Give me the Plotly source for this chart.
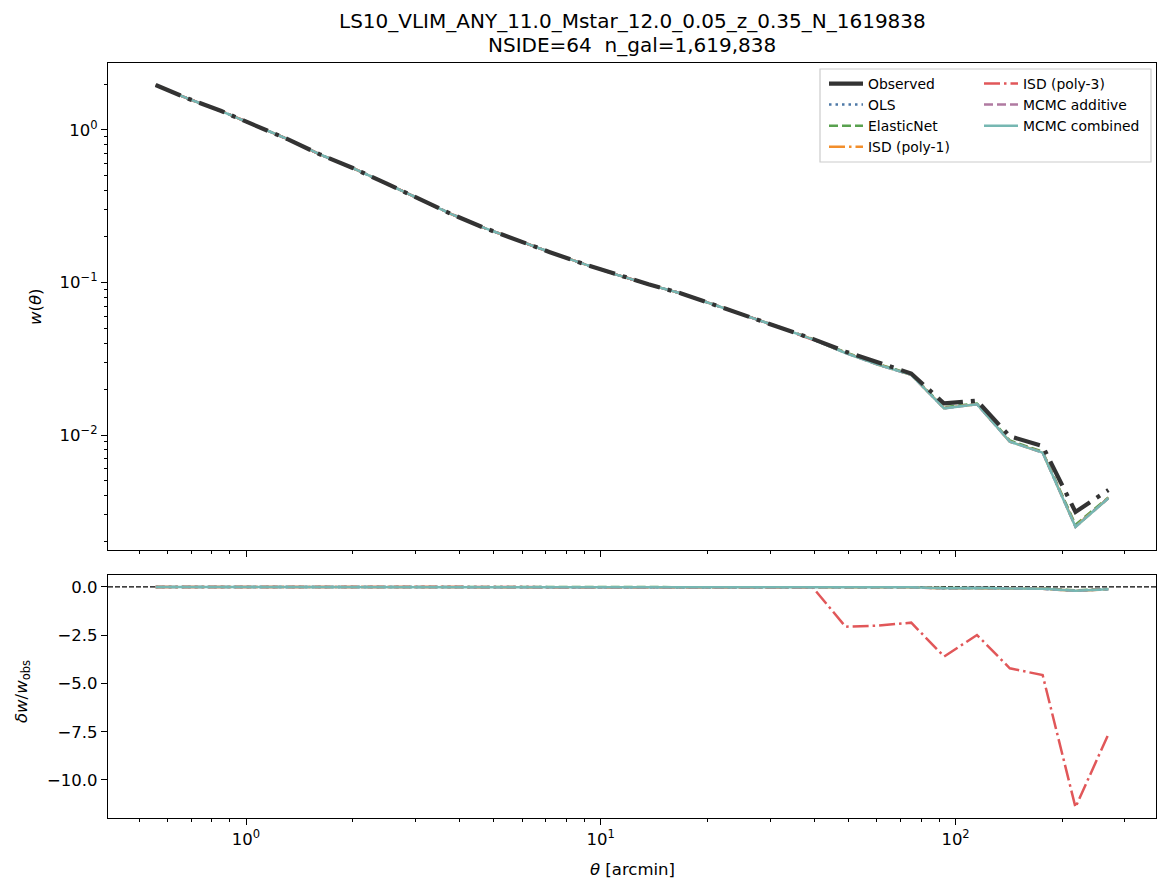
import numpy as np
import plotly.graph_objects as go

# ---------------- data ----------------
theta = [0.5563, 0.6884, 0.8519, 1.0546, 1.3053, 1.6156, 1.9995, 2.4749, 3.0627, 3.7907,
         4.6925, 5.8076, 7.1878, 8.896, 11.007, 13.623, 16.862, 20.869, 25.83, 31.97,
         39.56, 48.97, 60.6, 75.0, 92.84, 114.9, 142.2, 176.0, 217.8, 269.6]

w_obs = [1.97, 1.60, 1.33, 1.083, 0.873, 0.691, 0.563, 0.448, 0.353, 0.281,
         0.228, 0.189, 0.158, 0.133, 0.113, 0.0973, 0.0848, 0.0716, 0.0605, 0.0509,
         0.0427, 0.0352, 0.0296, 0.0253, 0.0161, 0.0168, 0.0098, 0.00847, 0.00313, 0.00436]

w_ols = [1.97, 1.60, 1.33, 1.083, 0.873, 0.691, 0.563, 0.448, 0.353, 0.281,
         0.228, 0.189, 0.158, 0.133, 0.113, 0.0972, 0.0847, 0.0715, 0.0604, 0.0507,
         0.0425, 0.0347, 0.0290, 0.0249, 0.0150, 0.0160, 0.00910, 0.00770, 0.00253, 0.00387]

w_enet = [1.97, 1.60, 1.33, 1.083, 0.873, 0.691, 0.563, 0.448, 0.353, 0.281,
          0.228, 0.189, 0.158, 0.133, 0.113, 0.0972, 0.0847, 0.0715, 0.0604, 0.0508,
          0.0426, 0.0349, 0.0292, 0.0250, 0.0152, 0.0161, 0.00920, 0.00778, 0.00258, 0.00390]

w_isd1 = [1.97, 1.60, 1.33, 1.083, 0.873, 0.691, 0.563, 0.448, 0.353, 0.281,
          0.228, 0.189, 0.158, 0.133, 0.113, 0.0972, 0.0847, 0.0715, 0.0604, 0.0507,
          0.0424, 0.0346, 0.0289, 0.0248, 0.0150, 0.0159, 0.00905, 0.00768, 0.00251, 0.00386]

w_isd3 = [1.97, 1.60, 1.33, 1.083, 0.873, 0.691, 0.563, 0.448, 0.353, 0.281,
          0.228, 0.189, 0.158, 0.133, 0.113, 0.0972, 0.0847, 0.0715, 0.0604, 0.0507,
          0.0421, -0.0373, -0.0296, -0.0215, -0.0419, -0.0250, -0.0315, -0.0302, -0.0326, -0.0289]

w_mcmc_add = [1.97, 1.60, 1.33, 1.083, 0.873, 0.691, 0.563, 0.448, 0.353, 0.281,
              0.228, 0.189, 0.158, 0.133, 0.113, 0.0972, 0.0847, 0.0715, 0.0604, 0.0507,
              0.0424, 0.0345, 0.0288, 0.0248, 0.01497, 0.0159, 0.00905, 0.00767, 0.00250, 0.00385]

w_mcmc_comb = [1.97, 1.60, 1.33, 1.083, 0.873, 0.691, 0.563, 0.448, 0.353, 0.281,
               0.228, 0.189, 0.158, 0.133, 0.113, 0.0972, 0.0847, 0.0715, 0.0604, 0.0507,
               0.0424, 0.0345, 0.0288, 0.0248, 0.01495, 0.0159, 0.00904, 0.00766, 0.00250, 0.00385]

series = [
    ("OLS", w_ols, "#4e79a7", "2.5px,4px", "legend"),
    ("ElasticNet", w_enet, "#59a14f", "9px,4px", "legend"),
    ("ISD (poly-1)", w_isd1, "#f28e2b", "16px,4px,2.5px,4px", "legend"),
    ("ISD (poly-3)", w_isd3, "#e15759", "16px,4px,2.5px,4px", "legend2"),
    ("MCMC additive", w_mcmc_add, "#b07aa1", "9px,4px", "legend2"),
    ("MCMC combined", w_mcmc_comb, "#76b7b2", "solid", "legend2"),
]

title_1 = "LS10_VLIM_ANY_11.0_Mstar_12.0_0.05_z_0.35_N_1619838"
title_2 = "NSIDE=64\u00a0 n_gal=1,619,838"

# ---------------- figure ----------------
W, H = 1168, 891
L, R, T, B = 108, 12, 63, 73
PW, PH = W - L - R, H - T - B


def px_x(px):
    return (px - L) / PW


def px_y(py):
    return (H - B - py) / PH


FONT = "DejaVu Sans"
fig = go.Figure()

obs = np.array(w_obs)
th = np.array(theta)

fig.add_trace(go.Scatter(x=[None], y=[None], mode="lines", name="Observed",
                         line=dict(color="#333333", width=4.2), xaxis="x", yaxis="y",
                         legend="legend", legendrank=1, showlegend=True))

rank = 2
for name, vals, col, dash, leg in series:
    v = np.array(vals, dtype=float)
    vtop = np.where(v > 0, v, np.nan)
    fig.add_trace(go.Scatter(x=th, y=vtop, mode="lines", name=name,
                             line=dict(color=col, width=2.5, dash=dash),
                             xaxis="x", yaxis="y", legend=leg, legendrank=rank,
                             showlegend=True))
    dev = (v - obs) / obs
    fig.add_trace(go.Scatter(x=th, y=dev, mode="lines", name=name,
                             line=dict(color=col, width=2.5, dash=dash),
                             xaxis="x2", yaxis="y2", showlegend=False))
    rank += 1

fig.add_trace(go.Scatter(x=th, y=obs, mode="lines", name="Observed",
                         line=dict(color="#333333", width=4.2, dash="27px,8px,4px,8px"),
                         xaxis="x", yaxis="y", showlegend=False))

xr = [-0.389, 2.565]
xminor = [v * 10 ** e for e in (-1, 0, 1, 2) for v in range(2, 10)]
yminor = [v * 10 ** e for e in (-3, -2, -1, 0) for v in range(2, 10)]

axis_common = dict(showline=True, linecolor="black", linewidth=1.3, mirror=True,
                   ticks="outside", ticklen=6, tickwidth=1.3, tickcolor="black",
                   showgrid=False, zeroline=False,
                   tickfont=dict(family=FONT, size=16.5, color="black"))

fig.update_layout(
    width=W, height=H,
    margin=dict(l=L, r=R, t=T, b=B),
    paper_bgcolor="white", plot_bgcolor="white",
    font=dict(family=FONT, color="black"),
    xaxis=dict(type="log", range=xr, domain=[0, 1], anchor="y",
               tickvals=[1, 10, 100], showticklabels=False, matches="x2",
               minor=dict(ticks="outside", ticklen=3.3, tickwidth=1, tickcolor="black",
                          tickmode="array", tickvals=xminor),
               **axis_common),
    yaxis=dict(type="log", range=[-2.754, 0.439], domain=[px_y(550), 1], anchor="x",
               tickvals=[0.01, 0.1, 1],
               ticktext=["10<sup>\u22122</sup>", "10<sup>\u22121</sup>", "10<sup>0</sup>"],
               minor=dict(ticks="outside", ticklen=3.3, tickwidth=1, tickcolor="black",
                          tickmode="array", tickvals=yminor),
               **axis_common),
    xaxis2=dict(type="log", range=xr, domain=[0, 1], anchor="y2",
                tickvals=[1, 10, 100],
                ticktext=["10<sup>0</sup>", "10<sup>1</sup>", "10<sup>2</sup>"],
                minor=dict(ticks="outside", ticklen=3.3, tickwidth=1, tickcolor="black",
                           tickmode="array", tickvals=xminor),
                **axis_common),
    yaxis2=dict(range=[-11.97, 0.62], domain=[0, px_y(575)], anchor="x2",
                tickvals=[0, -2.5, -5, -7.5, -10], tickformat=".1f",
                **axis_common),
    legend=dict(x=px_x(824), y=px_y(68), xanchor="left", yanchor="top",
                bgcolor="rgba(0,0,0,0)", borderwidth=0,
                font=dict(family=FONT, size=13.9, color="black"),
                traceorder="normal", itemwidth=34),
    legend2=dict(x=px_x(979), y=px_y(68), xanchor="left", yanchor="top",
                 bgcolor="rgba(0,0,0,0)", borderwidth=0,
                 font=dict(family=FONT, size=13.9, color="black"),
                 traceorder="normal", itemwidth=34),
)

fig.add_shape(type="rect", xref="paper", yref="paper",
              x0=px_x(820), x1=px_x(1151), y0=px_y(162), y1=px_y(69),
              line=dict(color="#cccccc", width=1.2), fillcolor="rgba(255,255,255,0.8)",
              layer="below")

fig.add_shape(type="line", xref="x2 domain", yref="y2", x0=0, x1=1, y0=0, y1=0,
              line=dict(color="black", width=1.2, dash="5px,2px"), layer="below")

fig.add_annotation(text=title_1, xref="paper", yref="paper", x=0.5, y=px_y(21),
                   xanchor="center", yanchor="middle", showarrow=False,
                   font=dict(family=FONT, size=20, color="black"))
fig.add_annotation(text=title_2, xref="paper", yref="paper", x=0.5, y=px_y(45),
                   xanchor="center", yanchor="middle", showarrow=False,
                   font=dict(family=FONT, size=20, color="black"))

fig.add_annotation(text="<i>w</i>(<i>θ</i>)", xref="paper", yref="paper",
                   x=px_x(35), y=px_y(307), xanchor="center", yanchor="middle",
                   textangle=-90, showarrow=False,
                   font=dict(family=FONT, size=16.5, color="black"))
fig.add_annotation(text="<i>δw</i>/<i>w</i><sub>obs</sub>", xref="paper", yref="paper",
                   x=px_x(22), y=px_y(692), xanchor="center", yanchor="middle",
                   textangle=-90, showarrow=False,
                   font=dict(family=FONT, size=16.5, color="black"))
fig.add_annotation(text="<i>θ</i> [arcmin]", xref="paper", yref="paper",
                   x=0.5, y=px_y(869), xanchor="center", yanchor="middle",
                   showarrow=False,
                   font=dict(family=FONT, size=16.5, color="black"))

fig.write_html("out.html")
